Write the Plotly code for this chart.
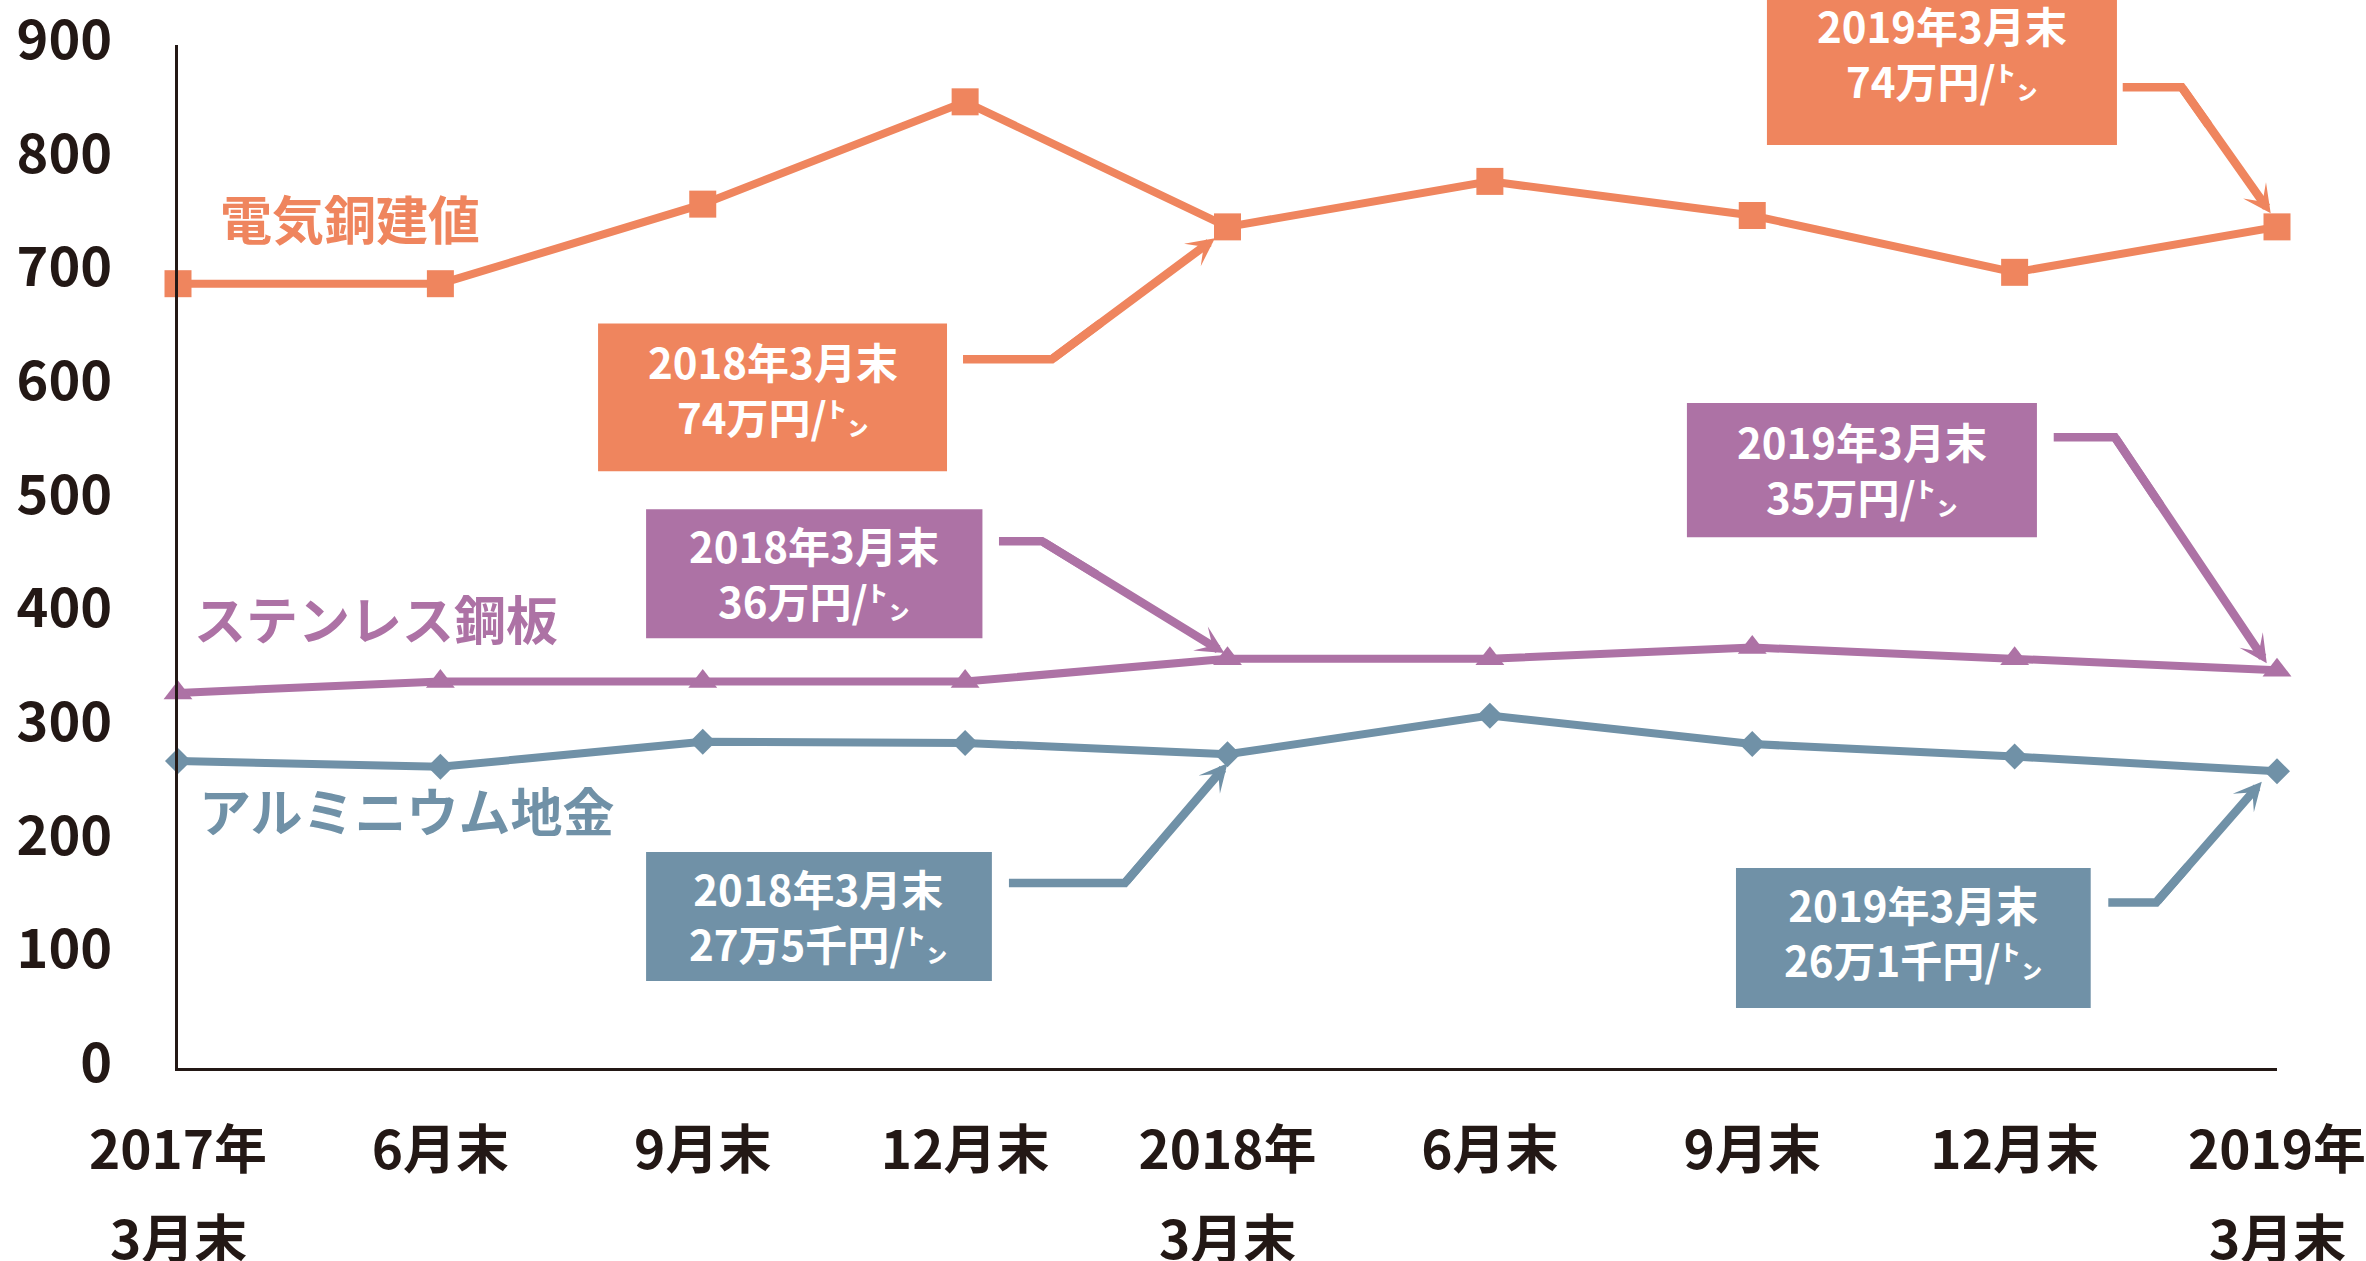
import plotly.graph_objects as go

# ---------------- data ----------------
categories = ["2017年3月末", "2017年6月末", "2017年9月末", "2017年12月末",
              "2018年3月末", "2018年6月末", "2018年9月末", "2018年12月末", "2019年3月末"]
tick_line1 = ["2017年", "6月末", "9月末", "12月末", "2018年", "6月末", "9月末", "12月末", "2019年"]
tick_line2 = ["3月末", "", "", "", "3月末", "", "", "", "3月末"]

copper = [690, 690, 760, 850, 740, 780, 750, 700, 740]        # 電気銅建値 (千円/トン)
stainless = [330, 340, 340, 340, 360, 360, 370, 360, 350]     # ステンレス鋼板
aluminum = [270, 265, 287, 286, 276, 310, 285, 274, 261]      # アルミニウム地金

y_ticks = [0, 100, 200, 300, 400, 500, 600, 700, 800, 900]

series_names = ["電気銅建値", "ステンレス鋼板", "アルミニウム地金"]
callout_texts = ["2018年3月末<br>74万円/㌧", "2019年3月末<br>74万円/㌧",
                 "2018年3月末<br>36万円/㌧", "2019年3月末<br>35万円/㌧",
                 "2018年3月末<br>27万5千円/㌧", "2019年3月末<br>26万1千円/㌧"]

# ---------------- styles ----------------
COL_CU = "#EF855E"
COL_SS = "#AD72A5"
COL_AL = "#7091A7"
INK = "#231815"
FONT = "Noto Sans CJK JP"
Y_RANGE = [0, 900]
X_RANGE = [0, 8]

x_idx = list(range(len(categories)))


def ypaper(v):
    return (v - Y_RANGE[0]) / (Y_RANGE[1] - Y_RANGE[0])


fig = go.Figure()

series = [
    (series_names[0], copper, COL_CU, "square", 27),
    (series_names[1], stainless, COL_SS, "triangle-up", 25),
    (series_names[2], aluminum, COL_AL, "diamond", 20),
]
for name, vals, col, sym, size in series:
    fig.add_trace(go.Scatter(
        x=x_idx, y=vals, mode="lines+markers", name=name,
        line=dict(color=col, width=8),
        marker=dict(symbol=sym, size=size, color=col, line=dict(width=0)),
        cliponaxis=False, showlegend=False, hoverinfo="skip"))

# series labels (left x, centre y in data units)
series_label_pos = [(0.152, 748), (0.053, 396), (0.072, 227)]
for (name, _, col, _, _), (lx, ly) in zip(series, series_label_pos):
    fig.add_annotation(x=lx, y=ly, xref="x", yref="y", text=name, showarrow=False,
                       xanchor="left", yanchor="middle",
                       font=dict(family=FONT, size=52, color=col, weight="bold"))

# callout boxes: box (x0, x1, y0, y1), text centre, connector start/elbow, arrow tip
callouts = [
    dict(color=COL_CU, box=(1.601, 2.931, 525, 655), txt=(2.266, 598), seg=[(2.992, 623.6), (3.331, 623.6)], tip=(3.952, 730)),
    dict(color=COL_CU, box=(6.056, 7.390, 812, 942), txt=(6.723, 894), seg=[(7.412, 862.8), (7.637, 862.8)], tip=(7.976, 752)),
    dict(color=COL_SS, box=(1.784, 3.066, 378, 491.6), txt=(2.425, 436), seg=[(3.129, 463.5), (3.293, 463.5)], tip=(3.988, 365)),
    dict(color=COL_SS, box=(5.751, 7.085, 467, 585), txt=(6.418, 528), seg=[(7.149, 555), (7.382, 555)], tip=(7.961, 356)),
    dict(color=COL_AL, box=(1.784, 3.102, 76.5, 190), txt=(2.443, 134.6), seg=[(3.167, 162.7), (3.609, 162.7)], tip=(4.0, 268)),
    dict(color=COL_AL, box=(5.938, 7.290, 52.8, 175.9), txt=(6.614, 120.5), seg=[(7.357, 145.7), (7.540, 145.7)], tip=(7.942, 251.8)),
]

for c, text in zip(callouts, callout_texts):
    x0, x1, y0, y1 = c["box"]
    fig.add_shape(type="rect", xref="x", yref="paper", x0=x0, x1=x1,
                  y0=ypaper(y0), y1=ypaper(y1), fillcolor=c["color"],
                  line=dict(width=0), layer="above")
    fig.add_annotation(x=c["txt"][0], y=c["txt"][1], xref="x", yref="y", text=text,
                       showarrow=False, xanchor="center", yanchor="middle", align="center",
                       font=dict(family=FONT, size=42, color="white", weight="bold"))
    (sx, sy), (ex, ey) = c["seg"]
    tx, ty = c["tip"]
    mx, my = ex + 0.3 * (tx - ex), ey + 0.3 * (ty - ey)
    fig.add_shape(type="path", xref="x", yref="y",
                  path=f"M {sx} {sy} L {ex} {ey} L {mx} {my}",
                  line=dict(color=c["color"], width=8.5), layer="above")
    fig.add_annotation(x=tx, y=ty, ax=ex, ay=ey, xref="x", yref="y", axref="x", ayref="y",
                       text="", showarrow=True, arrowhead=3, arrowsize=0.55, arrowwidth=8.5,
                       arrowcolor=c["color"], standoff=0, startstandoff=0)

# second line of the x tick labels
for i, t in enumerate(tick_line2):
    if t:
        fig.add_annotation(x=x_idx[i], y=0, xref="x", yref="paper", yshift=-168, text=t,
                           showarrow=False, xanchor="center", yanchor="middle",
                           font=dict(family=FONT, size=53, color=INK, weight="bold"))

fig.update_layout(
    width=2366, height=1261,
    margin=dict(l=178, r=89, t=45, b=193, autoexpand=False),
    paper_bgcolor="white", plot_bgcolor="white",
    font=dict(family=FONT, color=INK),
    xaxis=dict(range=X_RANGE, tickvals=x_idx, ticktext=tick_line1, showgrid=False,
               zeroline=False, showline=True, linecolor=INK, linewidth=3, ticks="",
               ticklabelstandoff=34, ticklabeloverflow="allow", automargin=False,
               tickfont=dict(family=FONT, size=53, color=INK, weight="bold")),
    yaxis=dict(range=Y_RANGE, tickvals=y_ticks, showgrid=False, zeroline=False,
               showline=True, linecolor=INK, linewidth=3, ticks="", automargin=False,
               ticklabelstandoff=52, ticklabelshift=-5, ticklabeloverflow="allow",
               tickfont=dict(family=FONT, size=54, color=INK, weight="bold")),
)

fig.write_html("out.html", config={"displayModeBar": False},
               post_script="document.body.style.margin='0';document.body.style.overflow='hidden';")
